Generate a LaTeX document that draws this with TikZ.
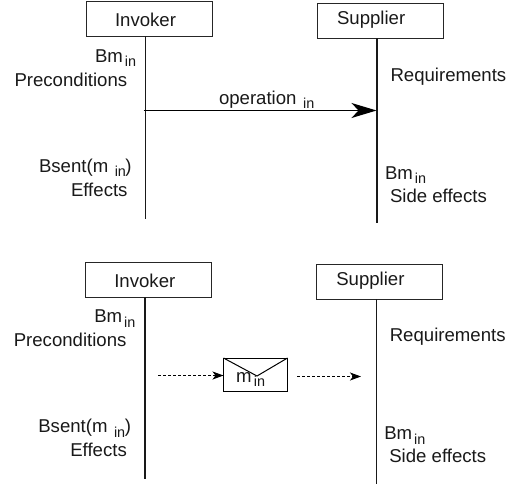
\documentclass[tikz,border=0pt]{standalone}
\usepackage{fontspec}
\setmainfont{Liberation Sans}
\usetikzlibrary{arrows.meta}
\newcommand{\subin}[1]{\kern#1pt\raisebox{-4.3pt}{\fontsize{14.4}{14.4}\selectfont in}}
\tikzset{
  txt/.style={anchor=base west,inner sep=0pt,outer sep=0pt,font=\fontsize{18.6}{20}\selectfont,text=black!90},
  actor/.style={draw=black!85,line width=0.9pt,inner sep=0pt,outer sep=0pt,minimum height=35pt},
  lifeline/.style={draw=black!90,line width=1.3pt},
  call/.style={draw=black,line width=1.2pt,-{Stealth[length=25pt,width=15pt,inset=7pt]}},
  msg/.style={draw=black,line width=1.1pt,dash pattern=on 3.4pt off 1.6pt,-{Stealth[length=11pt,width=8pt,inset=3pt]}},
  envbox/.style={draw=black,line width=1pt,inner sep=0pt,outer sep=0pt}
}
\begin{document}
\begin{tikzpicture}[x=1pt,y=-1pt]
\useasboundingbox (0,0) rectangle (513,487);
% upper diagram
\node[actor,minimum width=126pt] (inv1) at (149,19) {};
\node[actor,minimum width=126pt] (sup1) at (380.3,20.8) {};
\node[txt] (inv1t) at (115,27) {Invoker};
\node[txt] (sup1t) at (337,24.5) {Supplier};
\coordinate (il1) at (145.5,218.5);
\coordinate (sl1) at (377,223);
\draw[lifeline] (inv1.south -| il1) -- (il1);
\draw[lifeline] (sup1.south -| sl1) -- (sl1);
\coordinate (opa) at (143.5,110.5);
\coordinate (opb) at (376.5,110.5);
\draw[call] (opa) -- (opb);
\node[txt] (p1b) at (95,62) {Bm\subin{2}};
\node[txt] (p1) at (14.5,86) {Preconditions};
\node[txt] (r1) at (390.5,81) {Requirements};
\node[txt] (o1) at (219,104) {operation\subin{6.5}};
\node[txt] (e1b) at (39,172) {Bsent(m\subin{6.5}\kern-0.5pt)};
\node[txt] (e1) at (71,196) {Effects};
\node[txt] (s1b) at (385,179) {Bm\subin{2}};
\node[txt] (s1) at (390,202) {Side effects};
% lower diagram
\node[actor,minimum width=126pt] (inv2) at (148.3,279.7) {};
\node[actor,minimum width=126pt] (sup2) at (379.6,281.5) {};
\node[txt] (inv2t) at (114.3,287.7) {Invoker};
\node[txt] (sup2t) at (336.3,285.2) {Supplier};
\coordinate (il2) at (145,479);
\coordinate (sl2) at (376.4,484);
\draw[lifeline] (inv2.south -| il2) -- (il2);
\draw[lifeline] (sup2.south -| sl2) -- (sl2);
\node[envbox,minimum width=64pt,minimum height=33pt] (env) at (255.5,374.5) {};
\coordinate (flap) at (257,376);
\draw[envbox] (env.north west) -- (flap) -- (env.north east);
\node[txt] (envt) at (236,382) {m\subin{2.5}};
\coordinate (ma) at (158,375.5);
\coordinate (mb) at (297,376.5);
\coordinate (mc) at (361,376.5);
\draw[msg] (ma) -- (ma -| env.west);
\draw[msg] (mb) -- (mc);
\node[txt] (p2b) at (94.3,322.7) {Bm\subin{2}};
\node[txt] (p2) at (13.8,346.7) {Preconditions};
\node[txt] (r2) at (389.8,341.7) {Requirements};
\node[txt] (e2b) at (38.3,432.7) {Bsent(m\subin{6.5}\kern-0.5pt)};
\node[txt] (e2) at (70.3,456.7) {Effects};
\node[txt] (s2b) at (384.3,439.7) {Bm\subin{2}};
\node[txt] (s2) at (389.3,462.7) {Side effects};
\end{tikzpicture}
\end{document}
